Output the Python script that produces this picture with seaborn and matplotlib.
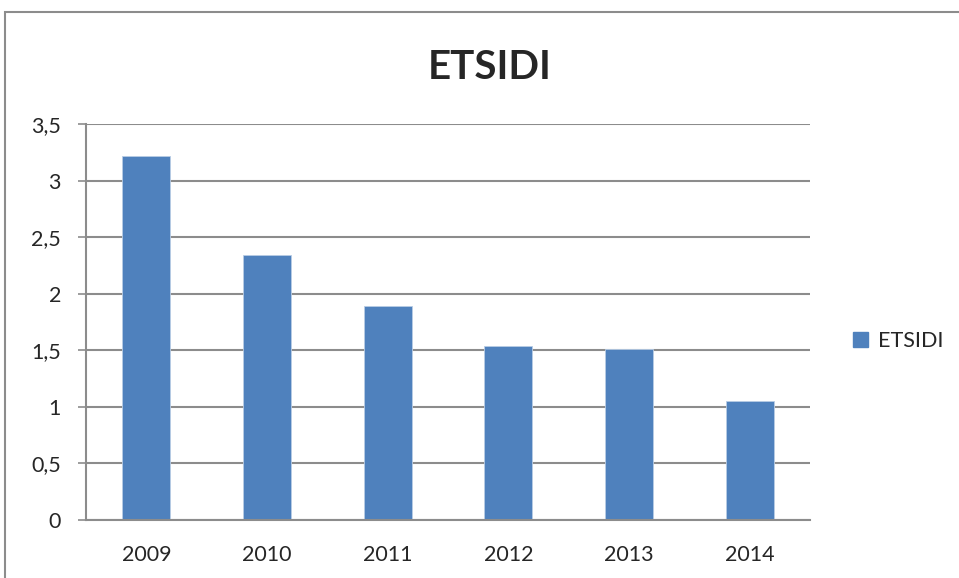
import numpy as np
import pandas as pd
import seaborn as sns
import matplotlib.pyplot as plt
from matplotlib.patches import Rectangle, Patch
from matplotlib.ticker import FuncFormatter

years = ["2009", "2010", "2011", "2012", "2013", "2014"]
values = [3.22, 2.34, 1.89, 1.54, 1.51, 1.05]
series_name = "ETSIDI"
yticks = [0, 0.5, 1, 1.5, 2, 2.5, 3, 3.5]

df = pd.DataFrame({"year": years, "value": values})

sns.set_style("white")
plt.rcParams['font.family'] = ['Lato', 'DejaVu Sans']

bar_color = "#4F81BD"
grid_color = "#8c8c8c"

fig = plt.figure(figsize=(9.59, 5.78), dpi=100)
ax = fig.add_axes([86/959, 1-520/578, (810-86)/959, (520-124)/578])

sns.barplot(data=df, x="year", y="value", color=bar_color, width=0.4,
            saturation=1, ax=ax, edgecolor="#b9cde5", linewidth=0.6)

ax.set_ylim(0, 3.5)
ax.set_xlim(-0.5, len(years) - 0.5)
ax.set_yticks(yticks)
ax.yaxis.set_major_formatter(FuncFormatter(lambda v, p: f"{v:g}".replace(".", ",")))
ax.yaxis.grid(True, color=grid_color, linewidth=1.5)
ax.set_axisbelow(True)

# category ticks between bars (Excel style)
ax.set_xticks(np.arange(-0.5, len(years)), minor=True)
ax.tick_params(axis="x", which="major", length=0, pad=18, labelsize=15.5)
ax.tick_params(axis="x", which="minor", length=6, width=1.2, color=grid_color, direction="out")
ax.tick_params(axis="y", which="major", length=6, width=1.2, color=grid_color,
               direction="out", pad=12, labelsize=15.5, left=True)

for s in ["top", "right"]:
    ax.spines[s].set_visible(False)
for s in ["left", "bottom"]:
    ax.spines[s].set_color(grid_color)
    ax.spines[s].set_linewidth(1.5)

ax.set_xlabel("")
ax.set_ylabel("")

fig.text(490/959, 1-79/578, "ETSIDI", ha="center", va="baseline",
         fontsize=29, fontweight="bold")

handle = Patch(facecolor=bar_color, edgecolor=bar_color)
fig.legend([handle], [series_name], loc="center left",
           bbox_to_anchor=(834/959, 1-341/578), frameon=False,
           fontsize=15.5, handlelength=0.7, handleheight=0.7, handletextpad=0.45)

# outer chart border
fig.patches.append(Rectangle((5/959, -0.05), 1.2, 1-12/578+0.05,
                             transform=fig.transFigure, fill=False,
                             edgecolor="#8c8c8c", linewidth=1.5))

fig.savefig("out.png", dpi=100)
